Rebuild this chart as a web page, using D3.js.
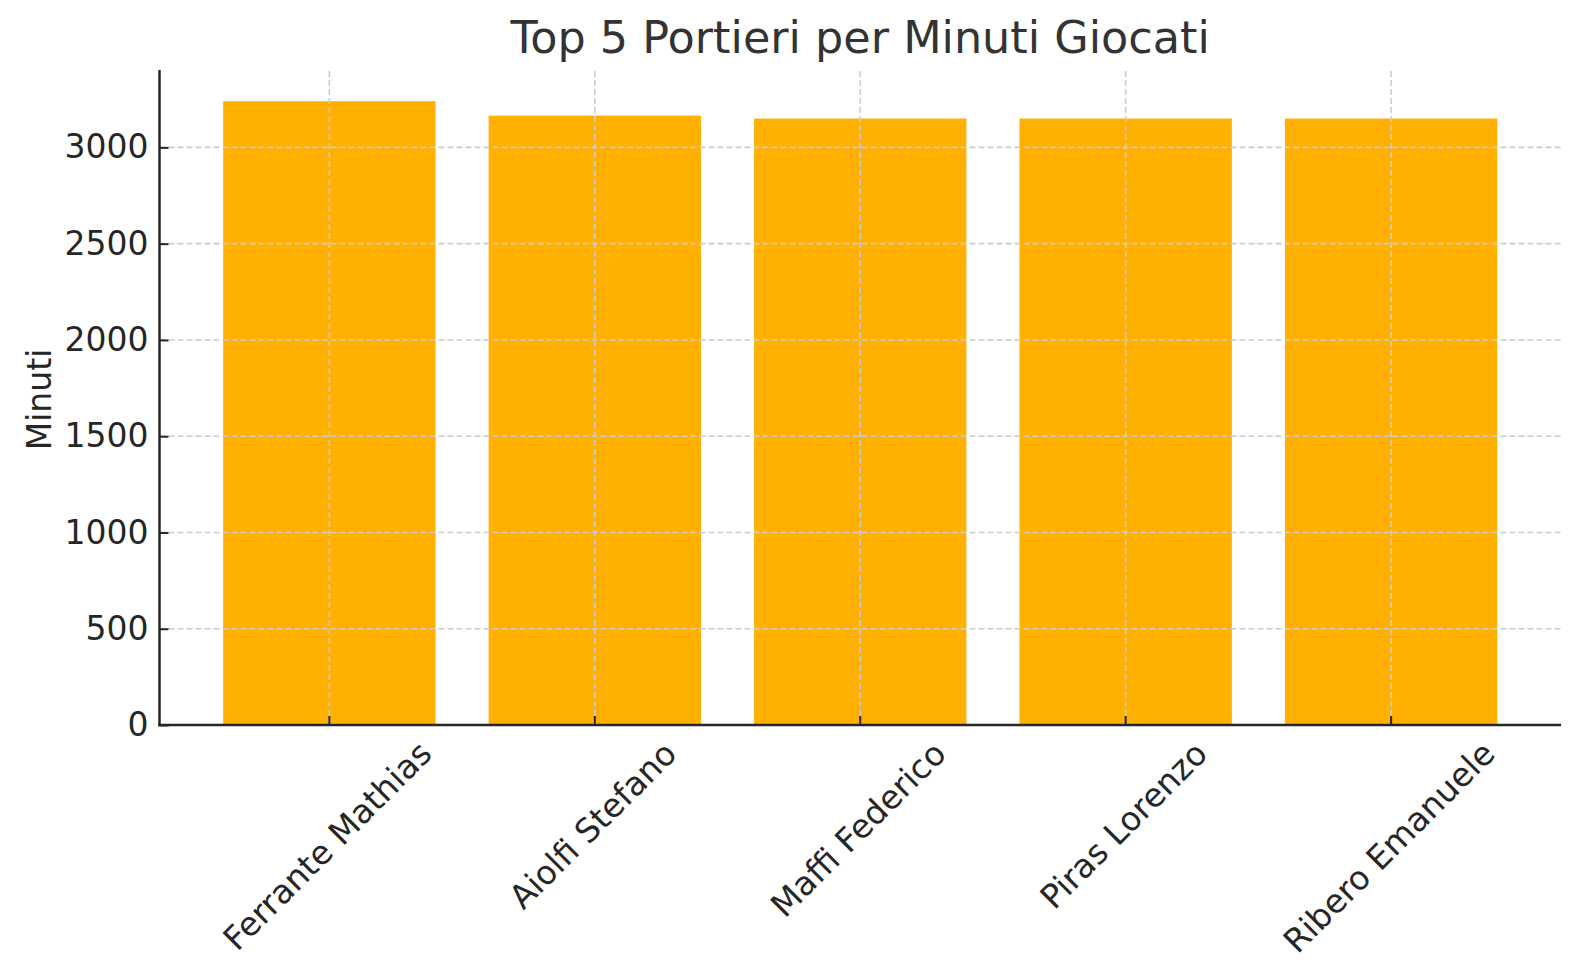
<!DOCTYPE html>
<html>
<head>
<meta charset="utf-8">
<script src="https://cdn.jsdelivr.net/npm/d3@7"></script>
<style>
  html, body { margin: 0; padding: 0; background: #ffffff; }
  svg { display: block; }
  text { font-family: "DejaVu Sans", sans-serif; }
</style>
</head>
<body>
<svg id="chart" width="1580" height="980"></svg>
<script>
const players = ["Ferrante Mathias", "Aiolfi Stefano", "Maffi Federico", "Piras Lorenzo", "Ribero Emanuele"];
const minutes = [3240, 3165, 3150, 3150, 3150];
const yTicks = [0, 500, 1000, 1500, 2000, 2500, 3000];
const chartTitle = "Top 5 Portieri per Minuti Giocati";
const yLabel = "Minuti";

const W = 1580, H = 980;
const margin = { left: 159.5, right: 19, top: 70, bottom: 255 };
const x0 = margin.left, x1 = W - margin.right;
const y0 = H - margin.bottom, y1 = margin.top;

const svg = d3.select("#chart");

const x = d3.scaleBand()
  .domain(players)
  .range([x0, x1])
  .paddingInner(0.2)
  .paddingOuter(0.24);

const y = d3.scaleLinear()
  .domain([0, d3.max(minutes) * 1.05])
  .range([y0, y1]);

const data = players.map((p, i) => ({ name: p, value: minutes[i] }));

// bars
svg.append("g")
  .selectAll("rect")
  .data(data)
  .join("rect")
  .attr("x", d => x(d.name))
  .attr("width", x.bandwidth())
  .attr("y", d => y(d.value))
  .attr("height", d => y(0) - y(d.value))
  .attr("fill", "#ffb000");

// grid (drawn above bars)
const grid = svg.append("g")
  .attr("stroke", "#cccccc")
  .attr("stroke-width", 1.6)
  .attr("stroke-dasharray", "6,3");
grid.selectAll("line.h")
  .data(yTicks.filter(t => t > 0))
  .join("line")
  .attr("class", "h")
  .attr("x1", x0).attr("x2", x1)
  .attr("y1", d => y(d)).attr("y2", d => y(d));
grid.selectAll("line.v")
  .data(players)
  .join("line")
  .attr("class", "v")
  .attr("x1", d => x(d) + x.bandwidth() / 2)
  .attr("x2", d => x(d) + x.bandwidth() / 2)
  .attr("y1", y1 + 1).attr("y2", y0);

// y axis
const yAxis = d3.axisLeft(y).tickValues(yTicks).tickSizeInner(-9).tickSizeOuter(0).tickPadding(11).tickFormat(d3.format("d"));
const gy = svg.append("g").attr("transform", `translate(${x0},0)`).call(yAxis);
gy.select(".domain").remove();
gy.selectAll(".tick line").attr("stroke", "#262626").attr("stroke-width", 2);
gy.selectAll(".tick text")
  .attr("font-size", 33)
  .attr("font-family", "DejaVu Sans")
  .attr("fill", "#262626");

// x axis
const xAxis = d3.axisBottom(x).tickSizeInner(-9).tickSizeOuter(0).tickFormat("");
const gx = svg.append("g").attr("transform", `translate(0,${y0})`).call(xAxis);
gx.select(".domain").remove();
gx.selectAll(".tick line").attr("stroke", "#262626").attr("stroke-width", 2);

// spines
svg.append("line").attr("x1", x0).attr("x2", x0).attr("y1", y1).attr("y2", y0 + 1.25)
  .attr("stroke", "#262626").attr("stroke-width", 2.5);
svg.append("line").attr("x1", x0 - 1.25).attr("x2", x1).attr("y1", y0).attr("y2", y0)
  .attr("stroke", "#262626").attr("stroke-width", 2.5);

// rotated x tick labels (matplotlib rotation=45, ha=center, va=top)
const fs = 33;
const labels = svg.append("g").selectAll("text")
  .data(players)
  .join("text")
  .attr("font-size", fs)
  .attr("fill", "#262626")
  .attr("text-anchor", "middle")
  .attr("dy", (0.346) + "em")
  .text(d => d);
labels.each(function(d) {
  const w = this.getComputedTextLength();
  const h = 1.164 * fs;
  const Hb = (w + h) / Math.SQRT2;
  const cx = x(d) + x.bandwidth() / 2 - 2;
  const cy = y0 + 9 + Hb / 2;
  d3.select(this).attr("transform", `translate(${cx},${cy}) rotate(-45)`);
});

// y label
svg.append("text")
  .attr("transform", `translate(50.5,${(y0 + y1) / 2 + 2}) rotate(-90)`)
  .attr("text-anchor", "middle")
  .attr("font-size", 33)
  .attr("fill", "#262626")
  .text(yLabel);

// title
svg.append("text")
  .attr("x", (x0 + x1) / 2)
  .attr("y", 53.3)
  .attr("text-anchor", "middle")
  .attr("font-size", 44.5)
  .attr("fill", "#333333")
  .text(chartTitle);
</script>
</body>
</html>
